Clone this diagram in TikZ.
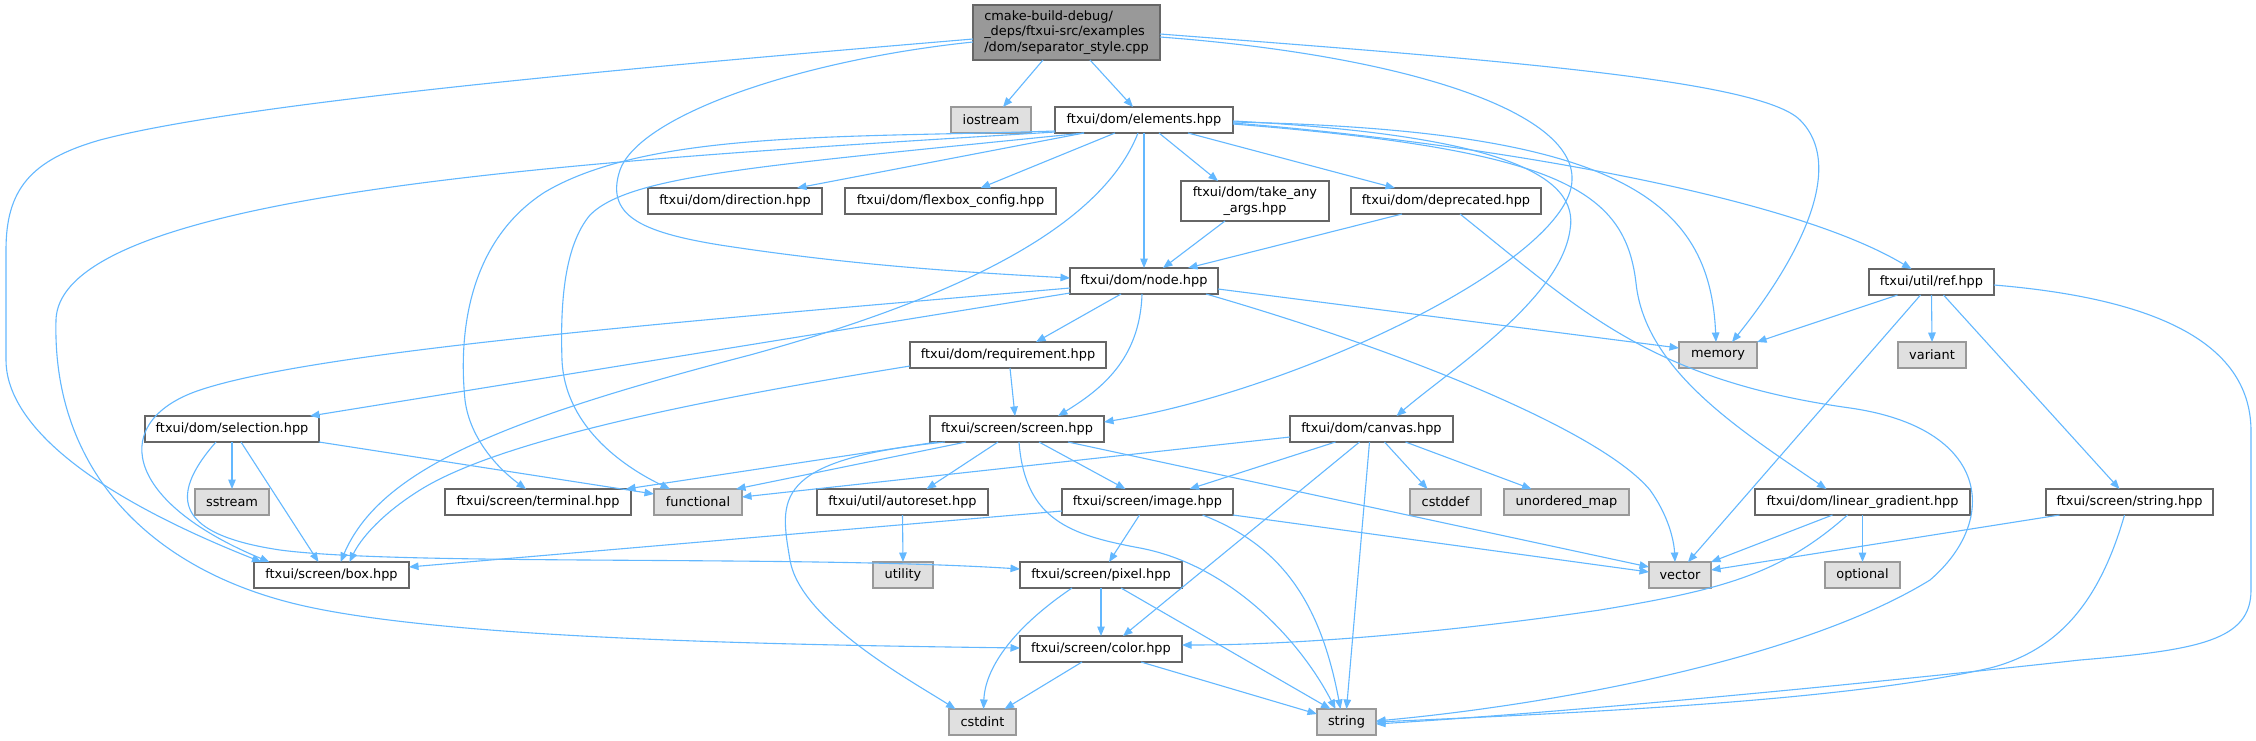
\documentclass[tikz,border=0pt]{standalone}
\usepackage{fontspec}
\setmainfont{DejaVu Sans}
\usetikzlibrary{arrows.meta}
\definecolor{eb}{HTML}{63B8FF}
\definecolor{nbd}{HTML}{666666}
\definecolor{sysfill}{HTML}{E0E0E0}
\definecolor{sysbd}{HTML}{999999}
\definecolor{mainfill}{HTML}{999999}
\begin{document}
\begin{tikzpicture}[x=1pt,y=-1pt,
  every node/.style={font=\fontsize{12.9}{15.5}\selectfont, inner sep=0pt, outer sep=0pt},
  nb/.style={draw=nbd, line width=1.3pt, fill=white, minimum height=26pt},
  sb/.style={draw=sysbd, line width=1.3pt, fill=sysfill, minimum height=26pt},
  mb/.style={draw=nbd, line width=1.3pt, fill=mainfill},
  ln/.style={draw=eb, line width=1.1pt, -{Triangle[length=9.5pt,width=7.5pt]}}]
\fill[white] (0,0) rectangle (2256,740);
\useasboundingbox (0,0) rectangle (2256,740);
% nodes
\node[mb, minimum width=187pt, minimum height=55pt, align=left] (main) at (1066.5,32.5) {cmake-build-debug/\\\_deps/ftxui-src/examples\\/dom/separator\_style.cpp};
\node[sb, minimum width=80pt] (iostream) at (991,120) {iostream};
\node[nb, minimum width=178pt] (elements) at (1144,120) {ftxui/dom/elements.hpp};
\node[nb, minimum width=174pt] (direction) at (735,201) {ftxui/dom/direction.hpp};
\node[nb, minimum width=211pt] (flexbox) at (950.5,201) {ftxui/dom/flexbox\_config.hpp};
\node[nb, minimum width=148pt, minimum height=40pt, align=center] (takeany) at (1255,201) {ftxui/dom/take\_any\\\_args.hpp};
\node[nb, minimum width=190pt] (deprecated) at (1446,201) {ftxui/dom/deprecated.hpp};
\node[nb, minimum width=148pt] (node) at (1144,281) {ftxui/dom/node.hpp};
\node[nb, minimum width=125pt] (ref) at (1931.5,282) {ftxui/util/ref.hpp};
\node[nb, minimum width=196pt] (requirement) at (1008,355) {ftxui/dom/requirement.hpp};
\node[sb, minimum width=78pt] (memory) at (1718,355) {memory};
\node[sb, minimum width=68pt] (variant) at (1932,355) {variant};
\node[nb, minimum width=174pt] (selection) at (232,429) {ftxui/dom/selection.hpp};
\node[nb, minimum width=174pt] (screen) at (1017,429) {ftxui/screen/screen.hpp};
\node[nb, minimum width=163pt] (canvas) at (1371.5,429) {ftxui/dom/canvas.hpp};
\node[sb, minimum width=74pt] (sstream) at (232,502) {sstream};
\node[nb, minimum width=186pt] (terminal) at (538,502) {ftxui/screen/terminal.hpp};
\node[sb, minimum width=88pt] (functional) at (698,502) {functional};
\node[nb, minimum width=171pt] (autoreset) at (902.5,502) {ftxui/util/autoreset.hpp};
\node[nb, minimum width=171pt] (image) at (1147.5,502) {ftxui/screen/image.hpp};
\node[sb, minimum width=71pt] (cstddef) at (1445.5,502) {cstddef};
\node[sb, minimum width=125pt] (unorderedmap) at (1566.5,502) {unordered\_map};
\node[nb, minimum width=215pt] (lineargradient) at (1862.5,502) {ftxui/dom/linear\_gradient.hpp};
\node[nb, minimum width=167pt] (stringhpp) at (2129.5,502) {ftxui/screen/string.hpp};
\node[nb, minimum width=155pt] (box) at (331.5,575) {ftxui/screen/box.hpp};
\node[sb, minimum width=60pt] (utility) at (903,575) {utility};
\node[nb, minimum width=162pt] (pixel) at (1101,575) {ftxui/screen/pixel.hpp};
\node[sb, minimum width=62pt] (vector) at (1680,575) {vector};
\node[sb, minimum width=75pt] (optional) at (1862.5,575) {optional};
\node[nb, minimum width=162pt] (color) at (1101,649) {ftxui/screen/color.hpp};
\node[sb, minimum width=67pt] (cstdint) at (982.5,722) {cstdint};
\node[sb, minimum width=59pt] (string) at (1346.5,722) {string};
% main
\draw[ln] ([xshift=-23.5pt]main.south) -- ([xshift=12pt]iostream.north);
\draw[ln] ([xshift=23.5pt]main.south) -- ([xshift=-11pt]elements.north);
\draw[ln] ([yshift=-9.5pt]main.west) .. controls (800,60) and (640,115) .. (620,170) .. controls (605,215) and (640,232) .. (720,245) .. controls (850,265) and (960,272) .. ([yshift=3pt]node.west);
\draw[ln] ([yshift=-6.5pt]main.west) .. controls (700,62) and (250,100) .. (100,140) .. controls (30,160) and (6,190) .. (6,250) -- (6,360) .. controls (6,420) and (80,490) .. ([xshift=-70pt]box.north);
\draw[ln] ([yshift=-4.5pt]main.east) .. controls (1400,55) and (1575,110) .. (1572,180) .. controls (1570,260) and (1300,390) .. ([yshift=7pt]screen.east);
\draw[ln] ([yshift=-1.5pt]main.east) .. controls (1500,60) and (1760,80) .. (1800,120) .. controls (1850,170) and (1790,270) .. ([xshift=14pt]memory.north);
% elements
\draw[ln] ([xshift=-60pt]elements.south) -- ([xshift=62pt]direction.north);
\draw[ln] ([xshift=-29pt]elements.south) -- ([xshift=30pt]flexbox.north);
\draw[ln] ([xshift=15pt]elements.south) -- ([xshift=-37pt]takeany.north);
\draw[ln] ([xshift=44pt]elements.south) -- ([xshift=-51pt]deprecated.north);
\draw[ln] (elements.south) -- (node.north);
\draw[ln] ([yshift=-3pt]elements.east) .. controls (1450,140) and (1780,190) .. ([xshift=-20pt]ref.north);
\draw[ln] ([yshift=-2pt]elements.east) .. controls (1620,130) and (1710,200) .. ([xshift=-2pt]memory.north);
\draw[ln] ([yshift=-1pt]elements.east) .. controls (1500,135) and (1580,175) .. (1570,230) .. controls (1560,300) and (1450,370) .. ([xshift=25pt]canvas.north);
\draw[ln] ([yshift=-4pt]elements.east) .. controls (1560,150) and (1625,190) .. (1636,283) .. controls (1645,370) and (1740,430) .. ([xshift=-36pt]lineargradient.north);
\draw[ln] ([yshift=-11pt]elements.west) .. controls (850,138) and (650,130) .. (545,192) .. controls (470,240) and (458,330) .. (465,400) .. controls (470,440) and (500,470) .. ([xshift=-12pt]terminal.north);
\draw[ln] ([yshift=-12pt]elements.west) .. controls (600,160) and (60,190) .. (56,320) .. controls (52,470) and (150,570) .. (300,605) .. controls (450,640) and (800,645) .. ([yshift=1pt]color.west);
\draw[ln] ([xshift=-60pt]elements.south) .. controls (760,166) and (630,175) .. (590,215) .. controls (565,245) and (560,300) .. (562,360) .. controls (565,430) and (630,470) .. ([xshift=-28pt]functional.north);
\draw[ln] ([xshift=-6pt]elements.south) .. controls (1100,230) and (950,300) .. (750,355) .. controls (500,420) and (380,470) .. ([xshift=9pt]box.north);
% take_any, deprecated
\draw[ln] ([xshift=-30pt]takeany.south) -- ([xshift=19pt]node.north);
\draw[ln] ([xshift=-44pt]deprecated.south) -- ([xshift=44pt]node.north);
\draw[ln] ([xshift=14pt]deprecated.south) .. controls (1580,310) and (1650,380) .. (1850,408) .. controls (1990,428) and (2000,520) .. (1930,580) .. controls (1800,660) and (1550,705) .. ([yshift=1pt]string.east);
% node
\draw[ln] ([xshift=-23pt]node.south) -- ([xshift=28pt]requirement.north);
\draw[ln] ([xshift=-2pt]node.south) .. controls (1140,360) and (1100,390) .. ([xshift=41pt]screen.north);
\draw[ln] ([yshift=-7pt]node.west) .. controls (700,320) and (320,350) .. (200,390) .. controls (110,420) and (120,500) .. ([xshift=-62pt]box.north);
\draw[ln] ([yshift=-12pt]node.west) -- ([xshift=78pt]selection.north);
\draw[ln] ([yshift=-8pt]node.east) -- ([yshift=7pt]memory.west);
\draw[ln] ([xshift=62pt]node.south) .. controls (1400,350) and (1600,430) .. (1650,490) .. controls (1668,515) and (1674,540) .. ([xshift=-5pt]vector.north);
% requirement
\draw[ln] ([xshift=2pt]requirement.south) -- ([xshift=-2pt]screen.north);
\draw[ln] ([yshift=-11pt]requirement.west) .. controls (700,400) and (500,440) .. (420,490) .. controls (380,515) and (360,540) .. ([xshift=18pt]box.north);
% ref
\draw[ln] ([xshift=-34pt]ref.south) -- (memory.north east);
\draw[ln] (ref.south) -- (variant.north);
\draw[ln] ([xshift=-11pt]ref.south) -- ([xshift=8pt]vector.north);
\draw[ln] ([xshift=12pt]ref.south) -- ([xshift=-10pt]stringhpp.north);
\draw[ln] ([yshift=-3pt]ref.east) .. controls (2150,298) and (2250,340) .. (2251,430) -- (2251,590) .. controls (2251,640) and (2200,650) .. (2080,660) .. controls (1900,680) and (1600,710) .. ([yshift=-2pt]string.east);
% selection
\draw[ln] (selection.south) -- (sstream.north);
\draw[ln] (selection.south east) -- ([yshift=8pt]functional.west);
\draw[ln] ([xshift=9pt]selection.south) -- ([xshift=-13pt]box.north);
\draw[ln] ([xshift=-16pt]selection.south) .. controls (165,500) and (180,535) .. (280,550) .. controls (400,566) and (800,555) .. ([yshift=6pt]pixel.west);
% screen
\draw[ln] ([xshift=-80pt]screen.south) -- ([xshift=88pt]terminal.north);
\draw[ln] ([xshift=-51pt]screen.south) -- ([xshift=-6pt]functional.north east);
\draw[ln] ([xshift=-72pt]screen.south) .. controls (770,460) and (780,500) .. (790,560) .. controls (800,620) and (910,680) .. ([xshift=-27pt]cstdint.north);
\draw[ln] ([xshift=-19pt]screen.south) -- ([xshift=24pt]autoreset.north);
\draw[ln] ([xshift=22pt]screen.south) -- ([xshift=-22pt]image.north);
\draw[ln] ([xshift=2pt]screen.south) .. controls (1025,520) and (1070,535) .. (1140,548) .. controls (1230,565) and (1300,640) .. ([xshift=-11pt]string.north);
\draw[ln] ([xshift=51pt]screen.south) -- ([yshift=8pt]vector.west);
% canvas
\draw[ln] ([yshift=-8pt]canvas.west) -- ([yshift=5pt]functional.east);
\draw[ln] ([xshift=-36pt]canvas.south) -- ([xshift=42pt]image.north);
\draw[ln] ([xshift=-12pt]canvas.south) -- ([xshift=22pt]color.north);
\draw[ln] ([xshift=-2pt]canvas.south) -- (string.north);
\draw[ln] ([xshift=13pt]canvas.south) -- ([xshift=-18pt]cstddef.north);
\draw[ln] ([xshift=34pt]canvas.south) -- ([xshift=-35pt]unorderedmap.north);
% image
\draw[ln] ([yshift=-9pt]image.west) -- ([yshift=8pt]box.east);
\draw[ln] ([xshift=-8pt]image.south) -- ([xshift=8pt]pixel.north);
\draw[ln] ([xshift=55pt]image.south) .. controls (1280,545) and (1320,600) .. ([xshift=-6pt]string.north);
\draw[ln] (image.south east) -- ([yshift=3pt]vector.west);
% autoreset
\draw[ln] (autoreset.south) -- (utility.north);
% pixel
\draw[ln] (pixel.south) -- (color.north);
\draw[ln] ([xshift=-29pt]pixel.south) .. controls (1010,630) and (985,670) .. ([xshift=1pt]cstdint.north);
\draw[ln] ([xshift=20pt]pixel.south) -- ([xshift=-16pt]string.north);
% color
\draw[ln] ([xshift=-19pt]color.south) -- ([xshift=22pt]cstdint.north);
\draw[ln] ([xshift=40pt]color.south) -- ([yshift=8pt]string.west);
% linear gradient
\draw[ln] ([xshift=-30pt]lineargradient.south) -- (vector.north east);
\draw[ln] (lineargradient.south) -- (optional.north);
\draw[ln] ([xshift=-15pt]lineargradient.south) .. controls (1780,575) and (1720,590) .. (1600,610) .. controls (1450,632) and (1300,645) .. ([yshift=4pt]color.east);
% string.hpp
\draw[ln] ([xshift=-70pt]stringhpp.south) -- ([yshift=5pt]vector.east);
\draw[ln] ([xshift=-5pt]stringhpp.south) .. controls (2100,600) and (2060,650) .. (1990,668) .. controls (1850,700) and (1600,712) .. (string.east);
\end{tikzpicture}
\end{document}
